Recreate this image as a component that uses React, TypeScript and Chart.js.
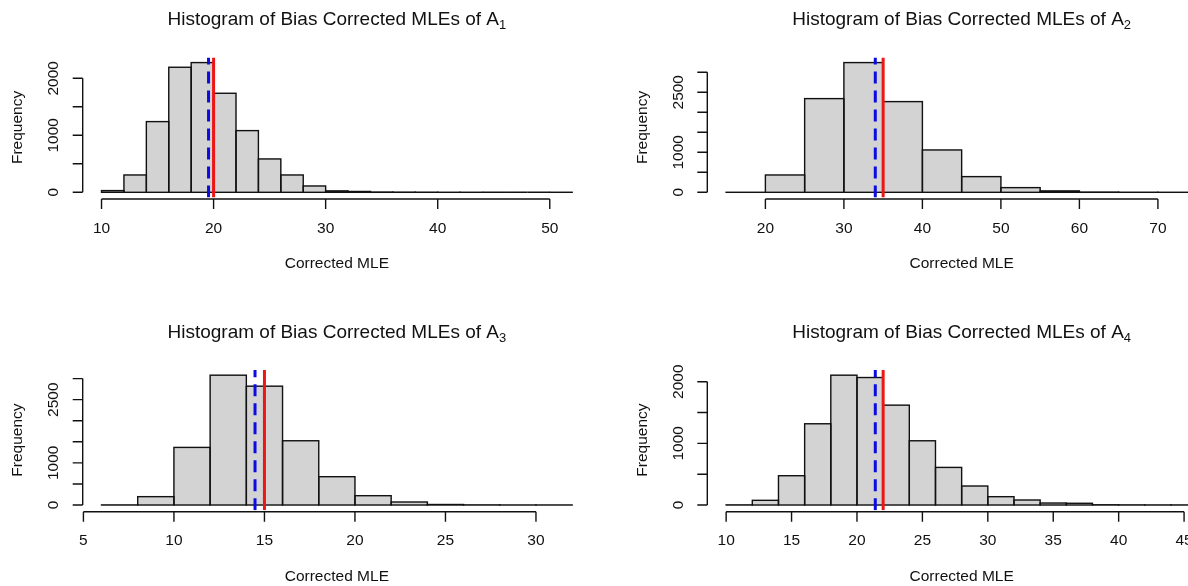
import React, { useEffect, useRef } from 'react';
import { Chart, registerables } from 'chart.js';

Chart.register(...registerables);

// ---------- data ----------
const a1Breaks = [10, 12, 14, 16, 18, 20, 22, 24, 26, 28, 30, 32, 34, 36, 38, 40, 42, 44, 46, 48, 50, 52];
const a1Counts = [30, 304, 1240, 2193, 2275, 1737, 1082, 585, 304, 111, 25, 15, 5, 3, 2, 1, 1, 0, 0, 0, 1];
const a1Mean = 19.55;
const a1True = 20;
const a1XTicks = [10, 20, 30, 40, 50];
const a1YTicks = [0, 500, 1000, 1500, 2000];
const a1YLabels = ['0', '', '1000', '', '2000'];

const a2Breaks = [15, 20, 25, 30, 35, 40, 45, 50, 55, 60, 65, 70, 75];
const a2Counts = [1, 433, 2341, 3241, 2266, 1058, 392, 117, 35, 6, 2, 1];
const a2Mean = 34.0;
const a2True = 35;
const a2XTicks = [20, 30, 40, 50, 60, 70];
const a2YTicks = [0, 500, 1000, 1500, 2000, 2500, 3000];
const a2YLabels = ['0', '', '1000', '', '', '2500', ''];

const a3Breaks = [6, 8, 10, 12, 14, 16, 18, 20, 22, 24, 26, 28, 30, 32];
const a3Counts = [2, 198, 1367, 3081, 2820, 1525, 672, 221, 71, 12, 3, 1, 1];
const a3Mean = 14.48;
const a3True = 15;
const a3XTicks = [5, 10, 15, 20, 25, 30];
const a3YTicks = [0, 500, 1000, 1500, 2000, 2500, 3000];
const a3YLabels = ['0', '', '1000', '', '', '2500', ''];

const a4Breaks = [10, 12, 14, 16, 18, 20, 22, 24, 26, 28, 30, 32, 34, 36, 38, 40, 42, 44, 46];
const a4Counts = [2, 76, 475, 1318, 2106, 2068, 1620, 1042, 610, 308, 135, 81, 32, 28, 4, 2, 1, 1];
const a4Mean = 21.4;
const a4True = 22;
const a4XTicks = [10, 15, 20, 25, 30, 35, 40, 45];
const a4YTicks = [0, 500, 1000, 1500, 2000];
const a4YLabels = ['0', '', '1000', '', '2000'];

const titleText = 'Histogram of Bias Corrected MLEs of A';
const xTitle = 'Corrected MLE';
const yTitle = 'Frequency';

// ---------- layout ----------
const FONT = '"Liberation Sans", Arial, Helvetica, sans-serif';

type Panel = {
  sub: string;
  breaks: number[];
  counts: number[];
  mean: number;
  truth: number;
  xTicks: number[];
  yTicks: number[];
  yLabels: string[];
  left: number;
  top: number;
  width: number;
  pad: { left: number; right: number; top: number; bottom: number };
};

const panels: Panel[] = [
  { sub: '1', breaks: a1Breaks, counts: a1Counts, mean: a1Mean, truth: a1True, xTicks: a1XTicks, yTicks: a1YTicks, yLabels: a1YLabels,
    left: 0, top: 0, width: 594, pad: { left: 82.7, right: 3, top: 57.4, bottom: 95.5 } },
  { sub: '2', breaks: a2Breaks, counts: a2Counts, mean: a2Mean, truth: a2True, xTicks: a2XTicks, yTicks: a2YTicks, yLabels: a2YLabels,
    left: 594, top: 0, width: 680, pad: { left: 113.3, right: 58, top: 57.4, bottom: 95.5 } },
  { sub: '3', breaks: a3Breaks, counts: a3Counts, mean: a3Mean, truth: a3True, xTicks: a3XTicks, yTicks: a3YTicks, yLabels: a3YLabels,
    left: 0, top: 293, width: 594, pad: { left: 82.7, right: 3, top: 77, bottom: 75.8 } },
  { sub: '4', breaks: a4Breaks, counts: a4Counts, mean: a4Mean, truth: a4True, xTicks: a4XTicks, yTicks: a4YTicks, yLabels: a4YLabels,
    left: 594, top: 293, width: 680, pad: { left: 113.3, right: 58, top: 77, bottom: 75.8 } },
];

const PANEL_H = 293;

const barStroke = {
  id: 'barStroke',
  afterDatasetDraw(chart: any, args: any) {
    if (args.index !== 0) return;
    const { ctx } = chart;
    const meta = args.meta;
    ctx.save();
    ctx.strokeStyle = '#111';
    ctx.lineWidth = 1.4;
    meta.data.forEach((el: any) => {
      const p = el.getProps(['x', 'y', 'base', 'width'], true);
      const l = p.x - p.width / 2;
      const top = Math.min(p.y, p.base);
      const h = Math.abs(p.base - p.y);
      ctx.strokeRect(l, top, p.width, h);
    });
    ctx.restore();
  },
};

const rAxes = {
  id: 'rAxes',
  afterDraw(chart: any, _args: any, opts: any) {
    const p: Panel = opts.panel;
    if (!p) return;
    const { ctx, chartArea } = chart;
    const xs = chart.scales.x;
    const ys = chart.scales.y;
    ctx.save();
    ctx.strokeStyle = '#111';
    ctx.fillStyle = '#111';
    ctx.lineWidth = 1.4;

    // x axis
    const axisY = chartArea.bottom + 1.5;
    const xFirst = xs.getPixelForValue(p.xTicks[0]);
    const xLast = xs.getPixelForValue(p.xTicks[p.xTicks.length - 1]);
    ctx.beginPath();
    ctx.moveTo(xFirst, axisY);
    ctx.lineTo(xLast, axisY);
    p.xTicks.forEach((t) => {
      const px = xs.getPixelForValue(t);
      ctx.moveTo(px, axisY);
      ctx.lineTo(px, axisY + 10);
    });
    ctx.stroke();

    // y axis
    const axisX = chartArea.left;
    const yFirst = ys.getPixelForValue(p.yTicks[0]);
    const yLast = ys.getPixelForValue(p.yTicks[p.yTicks.length - 1]);
    ctx.beginPath();
    ctx.moveTo(axisX, yFirst);
    ctx.lineTo(axisX, yLast);
    p.yTicks.forEach((t) => {
      const py = ys.getPixelForValue(t);
      ctx.moveTo(axisX, py);
      ctx.lineTo(axisX - 10, py);
    });
    ctx.stroke();

    // tick labels
    ctx.font = `15.5px ${FONT}`;
    ctx.textAlign = 'center';
    ctx.textBaseline = 'middle';
    p.xTicks.forEach((t) => {
      ctx.fillText(String(t), xs.getPixelForValue(t), axisY + 29.5);
    });
    p.yTicks.forEach((t, i) => {
      const lab = p.yLabels[i];
      if (!lab) return;
      ctx.save();
      ctx.translate(axisX - 29, ys.getPixelForValue(t));
      ctx.rotate(-Math.PI / 2);
      ctx.fillText(lab, 0, 0);
      ctx.restore();
    });

    // axis titles
    ctx.font = `15.5px ${FONT}`;
    const cx = (chartArea.left + chartArea.right) / 2;
    const cy = (chartArea.top + chartArea.bottom) / 2;
    ctx.fillText(xTitle, cx, axisY + 65);
    ctx.save();
    ctx.translate(axisX - 64.5, cy);
    ctx.rotate(-Math.PI / 2);
    ctx.fillText(yTitle, 0, 0);
    ctx.restore();

    // main title with subscript
    ctx.textBaseline = 'alphabetic';
    ctx.textAlign = 'left';
    const mainFont = `19px ${FONT}`;
    const subFont = `13px ${FONT}`;
    ctx.font = mainFont;
    const w1 = ctx.measureText(titleText).width;
    ctx.font = subFont;
    const w2 = ctx.measureText(p.sub).width;
    const startX = cx - (w1 + w2) / 2;
    const baseY = chartArea.top - 32.4;
    ctx.font = mainFont;
    ctx.fillText(titleText, startX, baseY);
    ctx.font = subFont;
    ctx.fillText(p.sub, startX + w1, baseY + 4);

    ctx.restore();
  },
};

function HistPanel({ panel }: { panel: Panel }) {
  const ref = useRef<HTMLCanvasElement>(null);
  useEffect(() => {
    if (!ref.current) return;
    const b = panel.breaks;
    const maxCount = Math.max(...panel.counts);
    const yMin = -0.04 * maxCount;
    const yMax = 1.04 * maxCount;
    const range = b[b.length - 1] - b[0];
    const xMin = b[0] - 0.04 * range;
    const xMax = b[b.length - 1] + 0.04 * range;
    const barData = panel.counts.map((c, i) => ({ x: (b[i] + b[i + 1]) / 2, y: c }));

    const chart = new Chart(ref.current, {
      type: 'bar',
      data: {
        datasets: [
          {
            type: 'bar',
            data: barData,
            backgroundColor: '#D3D3D3',
            borderWidth: 0,
            barPercentage: 1,
            categoryPercentage: 1,
            order: 2,
          } as any,
          {
            type: 'line',
            data: [{ x: panel.mean, y: yMin }, { x: panel.mean, y: yMax }],
            borderColor: '#0c0ce0',
            borderWidth: 3,
            borderDash: [12, 7],
            pointRadius: 0,
            fill: false,
            order: 1,
          } as any,
          {
            type: 'line',
            data: [{ x: panel.truth, y: yMin }, { x: panel.truth, y: yMax }],
            borderColor: '#ee1515',
            borderWidth: 3,
            pointRadius: 0,
            fill: false,
            order: 0,
          } as any,
        ],
      },
      options: {
        responsive: false,
        animation: false,
        events: [],
        devicePixelRatio: 1,
        layout: { padding: panel.pad },
        scales: {
          x: { type: 'linear', display: false, min: xMin, max: xMax, offset: false },
          y: { type: 'linear', display: false, min: yMin, max: yMax },
        },
        plugins: {
          legend: { display: false },
          tooltip: { enabled: false },
          title: { display: false },
          rAxes: { panel },
        } as any,
      },
      plugins: [barStroke, rAxes],
    });
    return () => chart.destroy();
  }, [panel]);

  return (
    <canvas
      ref={ref}
      width={panel.width}
      height={PANEL_H}
      style={{ position: 'absolute', left: panel.left, top: panel.top, width: panel.width, height: PANEL_H }}
    />
  );
}

export default function App() {
  return (
    <div
      style={{
        position: 'fixed',
        left: 0,
        top: 0,
        width: 1188,
        height: 586,
        overflow: 'hidden',
        background: '#ffffff',
      }}
    >
      {panels.map((p, i) => (
        <HistPanel key={i} panel={p} />
      ))}
    </div>
  );
}
